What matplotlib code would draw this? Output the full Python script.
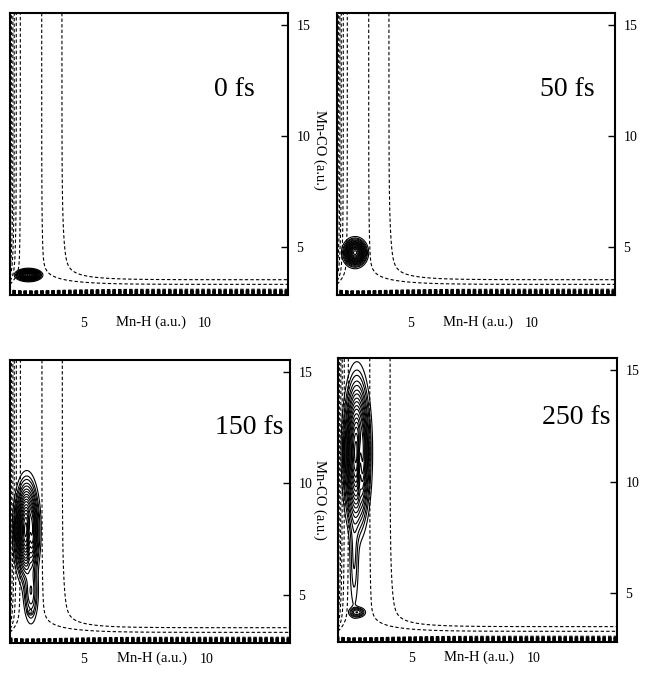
import numpy as np
import matplotlib
matplotlib.use("Agg")
import matplotlib.pyplot as plt
import matplotlib.transforms as mtransforms

plt.rcParams['font.family'] = ['Liberation Serif', 'DejaVu Serif']

# axis ticks and labels
x_ticks = [5, 10]
y_ticks = [5, 10, 15]
x_label = "Mn-H (a.u.)"
y_label = "Mn-CO (a.u.)"
times = ["0 fs", "50 fs", "150 fs", "250 fs"]

# potential surface: Morse parameters
morse_x = [2.75, 1.2]     # equilibrium Mn-H, range
morse_y = [3.16, 4.74]    # equilibrium Mn-CO, range
corner_soft = [0.25, 1.5]  # widening of the Mn-H well near the corner
pot_levels = [0.233, 0.654, 1.0, 1.3, 1.7, 2.1, 2.6, 3.2, 4.0, 5.0, 6.5, 8.0, 10.0, 12.0]

# wave packet pieces per panel: (x0, y0, sx, sy, amplitude)
packets = [
    [(2.76, 3.72, 0.21, 0.11, 1.0)],
    [(2.74, 4.73, 0.2, 0.26, 1.0)],
    [(2.68, 7.9, 0.21, 0.95, 1.0),
     (2.85, 5.1, 0.15, 0.7, 0.15),
     (2.82, 4.2, 0.06, 0.06, 0.05)],
    [(2.77, 11.3, 0.23, 1.45, 1.0),
     (2.66, 6.6, 0.11, 1.4, 0.06),
     (2.78, 4.15, 0.17, 0.12, 0.15)],
]
# nodal dip inside the long packets: (x0, y0, sx, sy, depth)
nodes = [None, None, (2.80, 7.4, 0.07, 1.0, 0.45), (2.90, 10.65, 0.07, 1.1, 0.5)]
wp_levels = [0.02, 0.04, 0.06, 0.09, 0.12, 0.16, 0.2, 0.25, 0.3, 0.36,
             0.42, 0.5, 0.58, 0.66, 0.75, 0.85, 0.95]

# panel placement [left, bottom, width, height], label spots
axes_pos = [[0.0155, 0.5643, 0.4297, 0.4165],
            [0.5209, 0.5643, 0.4297, 0.4165],
            [0.0155, 0.0502, 0.4328, 0.4180],
            [0.5224, 0.0517, 0.4312, 0.4195]]
time_pos = [(0.88, 0.727), (0.928, 0.727), (0.975, 0.763), (0.975, 0.789)]
xlab_px = [27, 27, 15, 15]   # centre of x labels below the frame, pixels

xlim = (2.0, 13.4)
ylim = (2.82, 15.54)

x = np.linspace(xlim[0], xlim[1], 700)
y = np.linspace(ylim[0], ylim[1], 700)
X, Y = np.meshgrid(x, y)

a_eff = morse_x[1] * (1 - corner_soft[0] * np.exp(-(Y - morse_y[0]) / corner_soft[1]))
Vx = (1 - np.exp(-a_eff * (X - morse_x[0]))) ** 2
Vy = (1 - np.exp(-morse_y[1] * (Y - morse_y[0]))) ** 2
V = Vx + Vy

fig = plt.figure(figsize=(6.47, 6.77), dpi=100)

for i in range(4):
    ax = fig.add_axes(axes_pos[i])
    ax.contour(X, Y, V, levels=[1 + e for e in pot_levels], colors="black",
               linewidths=0.8, linestyles=[(0, (3, 2))])

    rho = np.zeros_like(X)
    for (x0, y0, sx, sy, amp) in packets[i]:
        rho += amp * np.exp(-(X - x0) ** 2 / (2 * sx ** 2) - (Y - y0) ** 2 / (2 * sy ** 2))
    if nodes[i] is not None:
        x0, y0, sx, sy, d = nodes[i]
        rho *= 1 - d * np.exp(-(X - x0) ** 2 / (2 * sx ** 2) - (Y - y0) ** 2 / (2 * sy ** 2))
    rho = rho / rho.max()
    ax.contour(X, Y, rho, levels=wp_levels, colors="black", linewidths=0.8,
               linestyles="solid")

    ax_h = axes_pos[i][3] * 677
    ax.set_xlim(xlim)
    ax.set_ylim(ylim)
    ax.set_xticks(x_ticks)
    ax.set_yticks(y_ticks)
    ax.yaxis.tick_right()
    ax.tick_params(axis="y", direction="in", length=5, width=1, labelsize=10, pad=6)
    ax.tick_params(axis="x", length=0, labelsize=10, pad=(xlab_px[i] - 5) * 0.72)
    for s in ax.spines.values():
        s.set_linewidth(1.5)

    trans = mtransforms.blended_transform_factory(ax.transData, ax.transAxes)
    ax.text(7.78, -xlab_px[i] / ax_h, x_label, transform=trans, ha="center",
            va="center", fontsize=10.5)

    ax.text(time_pos[i][0], time_pos[i][1], times[i], transform=ax.transAxes,
            ha="right", va="center", fontsize=20)

fig.text(320 / 647, 1 - 150 / 677, y_label, rotation=270, ha="center", va="center", fontsize=10.5)
fig.text(320 / 647, 1 - 500 / 677, y_label, rotation=270, ha="center", va="center", fontsize=10.5)

fig.savefig("out.png", dpi=100)
